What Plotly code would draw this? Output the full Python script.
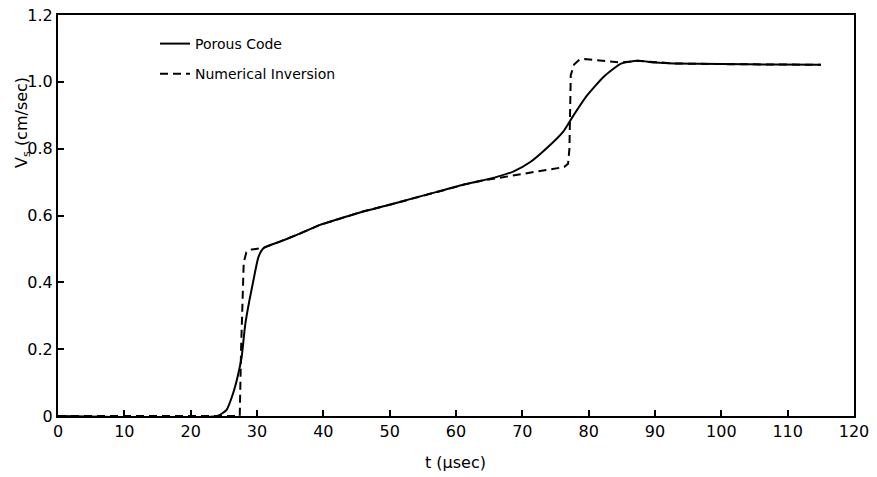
import plotly.graph_objects as go

# Porous Code (solid)
porous_t = [0, 24, 25.4, 26.4, 27.2, 27.7, 28.2, 28.8, 29.5, 30.2, 31, 33.5, 36, 39.5, 43, 46,
            50, 53.6, 57, 61.1, 63.6, 66.4, 68.7, 71.2, 73.7, 76.2, 77.5, 79.7, 82.2, 84.8,
            87.3, 90, 92.8, 100, 108, 115]
porous_v = [0, 0, 0.018, 0.068, 0.128, 0.178, 0.27, 0.34, 0.41, 0.475, 0.503, 0.522, 0.542,
            0.572, 0.594, 0.612, 0.632, 0.652, 0.67, 0.692, 0.703, 0.717, 0.732, 0.760, 0.802,
            0.852, 0.893, 0.958, 1.014, 1.054, 1.063, 1.058, 1.055, 1.053, 1.052, 1.051]

# Numerical Inversion (dashed)
numer_t = [0, 27.4, 27.6, 28.0, 28.4, 29.2, 31, 33.5, 36, 39.5, 43, 46, 50, 53.6, 57, 61.1,
           63.6, 66.4, 68.7, 71.7, 76.3, 76.9, 77.1, 77.3, 77.8, 78.6, 79.4, 82, 84.8, 87.3,
           90, 92.8, 100, 108, 115]
numer_v = [0, 0, 0.2, 0.46, 0.49, 0.498, 0.503, 0.522, 0.542, 0.572, 0.594, 0.612, 0.632,
           0.652, 0.67, 0.692, 0.703, 0.713, 0.72, 0.73, 0.745, 0.755, 0.80, 1.02, 1.052,
           1.066, 1.068, 1.063, 1.058, 1.063, 1.058, 1.055, 1.053, 1.052, 1.051]

x_ticks = [0, 10, 20, 30, 40, 50, 60, 70, 80, 90, 100, 110, 120]
y_ticks = [0, 0.2, 0.4, 0.6, 0.8, 1.0, 1.2]
y_tick_text = ["0", "0.2", "0.4", "0.6", "0.8", "1.0", "1.2"]

FONT = "DejaVu Sans"
PW, PH = 796, 401  # plot area size in px

fig = go.Figure()
fig.add_trace(go.Scatter(x=porous_t, y=porous_v, mode="lines", name="Porous Code",
                         legendgroup="a",
                         line=dict(color="black", width=2, shape="spline", smoothing=0.5)))
fig.add_trace(go.Scatter(x=numer_t, y=numer_v, mode="lines", name="Numerical Inversion",
                         legendgroup="b",
                         line=dict(color="black", width=2, dash="8px,5px")))

axis_common = dict(showline=True, linecolor="black", linewidth=2, mirror=True,
                   ticks="inside", ticklen=6, tickwidth=1.5, tickcolor="black",
                   showgrid=False, zeroline=False, automargin=False,
                   tickfont=dict(family=FONT, size=16, color="black"))

fig.update_xaxes(range=[0, 120], tickvals=x_ticks, **axis_common)
fig.update_yaxes(range=[0, 1.2], tickvals=y_ticks, ticktext=y_tick_text, **axis_common)

fig.update_layout(
    width=877, height=477,
    margin=dict(l=58, r=23, t=15, b=61),
    plot_bgcolor="white", paper_bgcolor="white",
    font=dict(family=FONT, color="black"),
    showlegend=True,
    legend=dict(x=(155 - 58) / PW, y=(416 - 28) / PH, xanchor="left", yanchor="top",
                bgcolor="rgba(0,0,0,0)", font=dict(family=FONT, size=14),
                tracegroupgap=9, itemwidth=30),
    annotations=[
        dict(text="t (μsec)", x=(455 - 58) / PW, y=-(463 - 416) / PH,
             xref="paper", yref="paper", xanchor="center", yanchor="middle",
             showarrow=False, font=dict(family=FONT, size=16)),
        dict(text="V<sub>s</sub> (cm/sec)", x=-(58 - 22) / PW, y=(416 - 123) / PH,
             xref="paper", yref="paper", xanchor="center", yanchor="middle",
             showarrow=False, textangle=-90, font=dict(family=FONT, size=16)),
    ],
)

fig.write_html("out.html", config={"displayModeBar": False},
               post_script="document.body.style.margin='0';")
